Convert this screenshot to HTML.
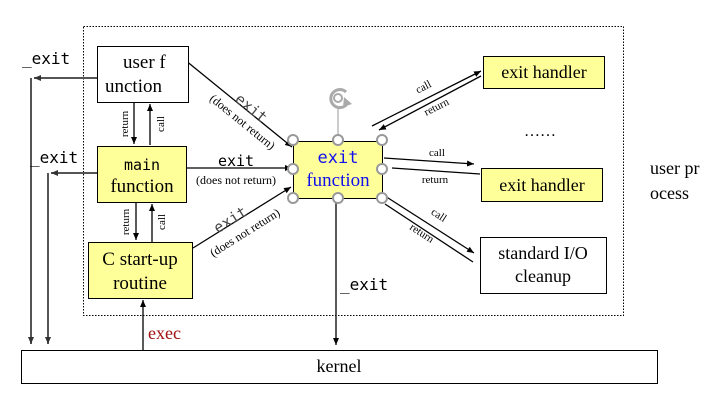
<!DOCTYPE html><html><head><style>body{margin:0;background:#fff}svg{display:block}</style></head><body>
<svg width="716" height="403" viewBox="0 0 716 403" xmlns="http://www.w3.org/2000/svg" font-family="Liberation Serif, serif">
<defs>
<marker id="a" markerWidth="8" markerHeight="8" refX="7" refY="3" orient="auto" markerUnits="userSpaceOnUse"><path d="M0,0 L7,3 L0,6z" fill="#000"/></marker>
<marker id="g" markerWidth="8" markerHeight="8" refX="7" refY="3" orient="auto" markerUnits="userSpaceOnUse"><path d="M0,0 L7,3 L0,6z" fill="#333"/></marker>
</defs>
<rect x="83.5" y="26.5" width="540" height="289" fill="none" stroke="#000" stroke-dasharray="1.5,1.5"/>
<rect x="21.5" y="350.5" width="636" height="33" fill="#fff" stroke="#000"/>
<text x="339" y="372" font-size="18" text-anchor="middle">kernel</text>
<!-- left _exit -->
<g stroke="#555" stroke-width="2" fill="none">
<path d="M97,78 H34" marker-end="url(#g)"/><path d="M31,78 V344" marker-end="url(#g)"/>
<path d="M97,173 H51" marker-end="url(#g)"/><path d="M48,173 V344" marker-end="url(#g)"/>
</g>
<text x="22" y="64" font-family="DejaVu Sans Mono, monospace" font-size="16">_exit</text>
<text x="30" y="163" font-family="DejaVu Sans Mono, monospace" font-size="16">_exit</text>
<g stroke="#000" stroke-width="1.3" fill="none">
<path d="M143,350 V300" marker-end="url(#a)"/>
<path d="M134,102 V144" marker-end="url(#a)"/><path d="M150,145 V104" marker-end="url(#a)"/>
<path d="M136,202 V240" marker-end="url(#a)"/><path d="M152,242 V204" marker-end="url(#a)"/>
<path d="M185,60 L292,147" marker-end="url(#a)"/>
<path d="M186,168 L292,168" marker-end="url(#a)"/>
<path d="M193,248 L291,187" marker-end="url(#a)"/>
<path d="M336,198 V345" marker-end="url(#a)"/>
<path d="M372,126 L481,71" marker-end="url(#a)"/><path d="M481,76 L379,130" marker-end="url(#a)"/>
<path d="M384,158 L474,164" marker-end="url(#a)"/><path d="M480,174 L392,168"/>
<path d="M385,196 L474,253" marker-end="url(#a)"/><path d="M473,262 L385,204"/>
</g>
<text x="148" y="339" font-size="18" fill="#a01010">exec</text>
<text x="340" y="290" font-family="DejaVu Sans Mono, monospace" font-size="16">_exit</text>
<g font-size="11">
<text transform="translate(128,124) rotate(-90)" text-anchor="middle">return</text>
<text transform="translate(164,124) rotate(-90)" text-anchor="middle">call</text>
<text transform="translate(129,222) rotate(-90)" text-anchor="middle">return</text>
<text transform="translate(165,222) rotate(-90)" text-anchor="middle">call</text>
</g>
<rect x="97.5" y="46.5" width="91" height="56" fill="#fff" stroke="#000"/>
<text x="123" y="68" font-size="19">user  f</text><text x="105" y="92" font-size="19">unction</text>
<rect x="97.5" y="146.5" width="89" height="56" fill="#ffff99" stroke="#000"/>
<text x="142" y="170" font-family="DejaVu Sans Mono, monospace" font-size="15" text-anchor="middle">main</text>
<text x="142" y="192" font-size="19" text-anchor="middle">function</text>
<rect x="88.5" y="242.5" width="104" height="56" fill="#ffff99" stroke="#000"/>
<text x="140" y="265" font-size="19" text-anchor="middle">C start-up</text>
<text x="140" y="289" font-size="19" text-anchor="middle">routine</text>
<!-- exit labels -->
<text transform="translate(248,112) rotate(39)" font-family="DejaVu Sans Mono, monospace" font-size="15" fill="#444" text-anchor="middle">exit</text>
<text transform="translate(240,125) rotate(39)" font-size="12" text-anchor="middle">(does not return)</text>
<text x="236" y="166" font-family="DejaVu Sans Mono, monospace" font-size="15" text-anchor="middle">exit</text>
<text x="236" y="184" font-size="12" text-anchor="middle">(does not return)</text>
<text transform="translate(233,224) rotate(-32)" font-family="DejaVu Sans Mono, monospace" font-size="15" fill="#444" text-anchor="middle">exit</text>
<text transform="translate(247,236) rotate(-32)" font-size="12" text-anchor="middle">(does not return)</text>
<!-- exit function -->
<rect x="293.5" y="141.5" width="89" height="57" fill="#ffff99" stroke="#000"/>
<text x="338" y="163" font-family="DejaVu Sans Mono, monospace" font-size="17" fill="#1010ee" text-anchor="middle">exit</text>
<text x="338" y="186" font-size="19" fill="#1010ee" text-anchor="middle">function</text>
<line x1="338" y1="108" x2="338" y2="140" stroke="#999"/>
<g fill="#fff" stroke="#999" stroke-width="2">
<circle cx="293" cy="140" r="5"/><circle cx="338" cy="140" r="5"/><circle cx="382" cy="140" r="5"/>
<circle cx="293" cy="169" r="5"/><circle cx="382" cy="169" r="5"/>
<circle cx="293" cy="198" r="5"/><circle cx="338" cy="198" r="5"/><circle cx="382" cy="198" r="5"/>
</g>
<path d="M346,92 A9,9 0 1 0 347,104" fill="none" stroke="#aaa" stroke-width="3"/>
<path d="M344,97 L352,104 L343,107z" fill="#aaa"/>
<circle cx="338" cy="98" r="4" fill="none" stroke="#aaa" stroke-width="2"/>
<g font-size="11">
<text transform="translate(425,90) rotate(-27)" text-anchor="middle">call</text>
<text transform="translate(438,110) rotate(-27)" text-anchor="middle">return</text>
<text x="437" y="156" text-anchor="middle">call</text>
<text x="435" y="183" text-anchor="middle">return</text>
<text transform="translate(437,218) rotate(33)" text-anchor="middle">call</text>
<text transform="translate(420,236) rotate(33)" text-anchor="middle">return</text>
</g>
<rect x="483.5" y="56.5" width="121" height="32" fill="#ffff99" stroke="#000"/>
<text x="544" y="78" font-size="18" text-anchor="middle">exit handler</text>
<rect x="481.5" y="168.5" width="121" height="33" fill="#ffff99" stroke="#000"/>
<text x="542" y="191" font-size="18" text-anchor="middle">exit handler</text>
<rect x="480.5" y="237.5" width="126" height="56" fill="#fff" stroke="#000"/>
<text x="543" y="259" font-size="18" text-anchor="middle">standard I/O</text>
<text x="543" y="282" font-size="18" text-anchor="middle">cleanup</text>
<text x="524" y="136" font-size="16">……</text>
<text x="650" y="174" font-size="18">user  pr</text>
<text x="650" y="199" font-size="18">ocess</text>
</svg>
</body></html>
